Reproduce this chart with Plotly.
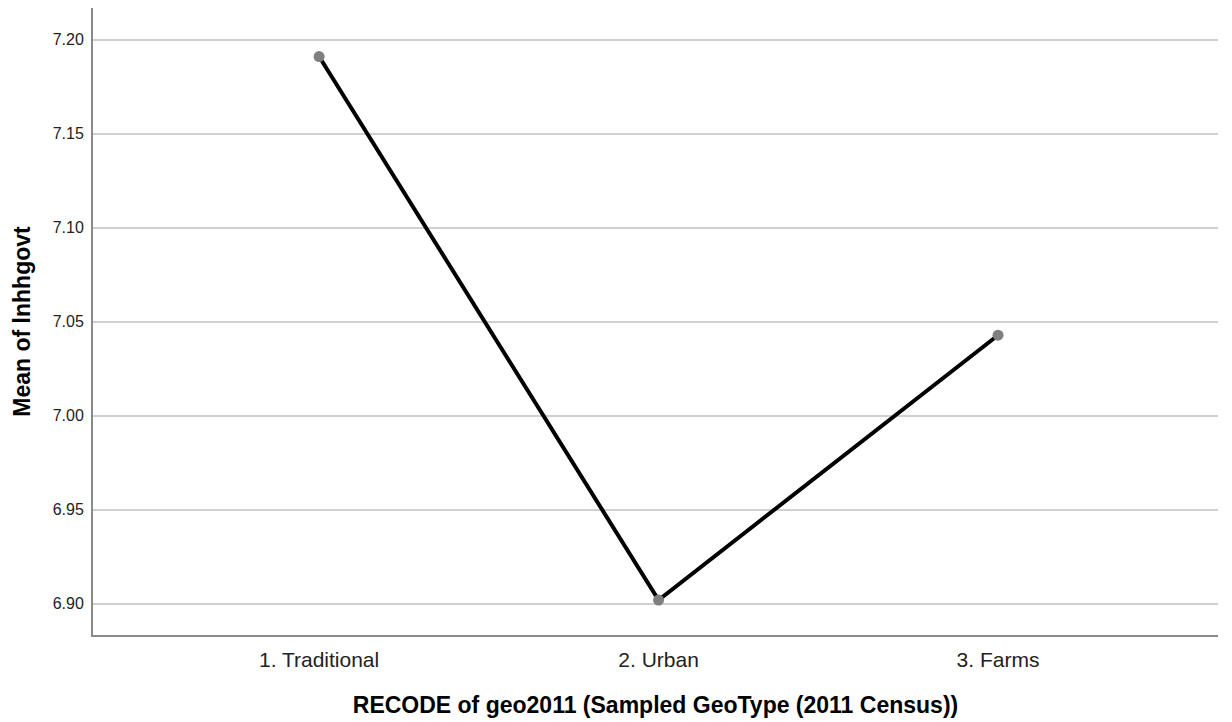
import plotly.graph_objects as go

categories = ["1. Traditional", "2. Urban", "3. Farms"]
means = [7.191, 6.902, 7.0428]
y_ticks = [6.90, 6.95, 7.00, 7.05, 7.10, 7.15, 7.20]
y_tick_labels = ["6.90", "6.95", "7.00", "7.05", "7.10", "7.15", "7.20"]

fig = go.Figure()
fig.add_trace(go.Scatter(
    x=categories, y=means, mode="lines+markers",
    line=dict(color="#000000", width=4),
    marker=dict(color="#7f7f7f", size=11),
    showlegend=False, hoverinfo="skip",
))

fig.update_layout(
    width=1224, height=714,
    margin=dict(l=85, r=14, t=0, b=87),
    paper_bgcolor="white", plot_bgcolor="white",
    font=dict(family="Liberation Sans, Arial, sans-serif", color="#000000"),
    xaxis=dict(
        type="category", range=[-0.666, 2.648],
        showgrid=False, showline=True, linecolor="#8a8a8a", linewidth=2,
        ticks="", tickfont=dict(size=21, color="#222222"),
        ticklabelstandoff=5,
        title=dict(text="<b>RECODE of geo2011 (Sampled GeoType (2011 Census))</b>",
                   font=dict(size=23, color="#000000"), standoff=27),
        zeroline=False,
    ),
    yaxis=dict(
        range=[6.8834, 7.2168],
        tickvals=y_ticks, ticktext=y_tick_labels,
        showgrid=True, gridcolor="#d0d0d0", gridwidth=1.5,
        showline=True, linecolor="#8a8a8a", linewidth=2,
        ticks="", tickfont=dict(size=16, color="#222222"),
        ticklabelstandoff=4,
        title=dict(text="<b>Mean of lnhhgovt</b>", font=dict(size=23, color="#000000"), standoff=16),
        zeroline=False,
    ),
)
fig.write_html("out.html")
